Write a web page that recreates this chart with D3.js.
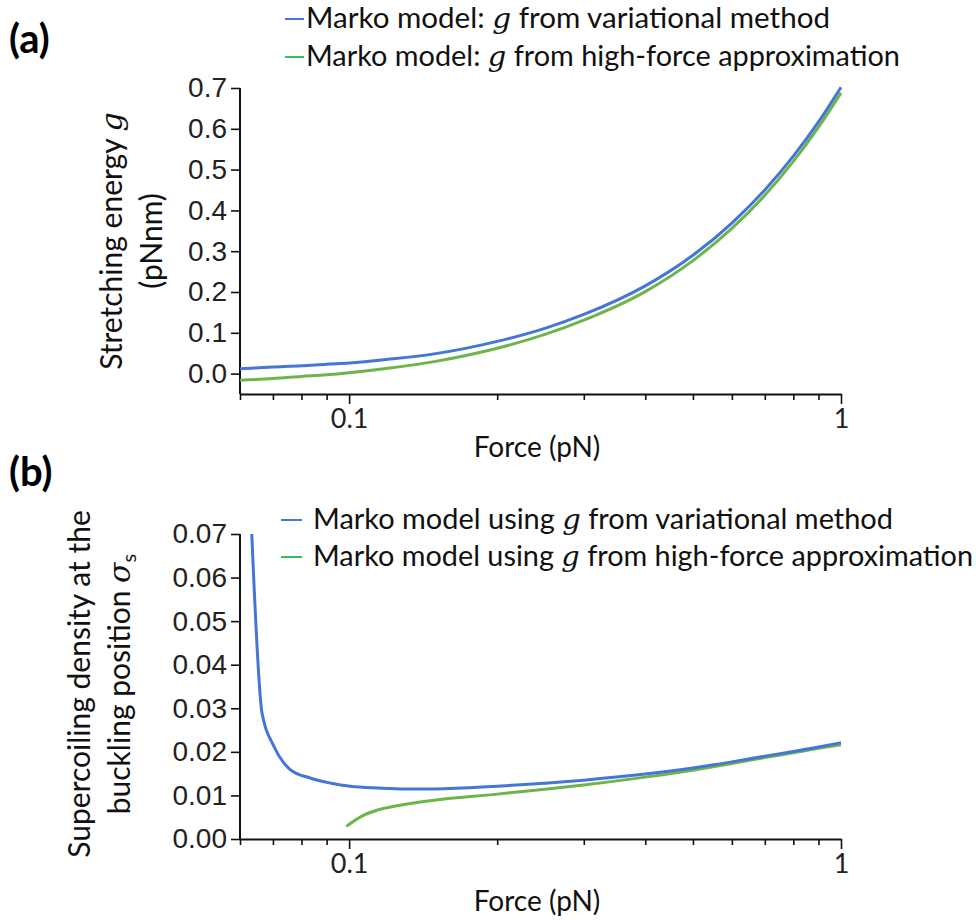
<!DOCTYPE html>
<meta charset="utf-8">
<script src="https://d3js.org/d3.v7.min.js"></script>
<style>
  body { margin: 0; background: #fff; }
  .ytk .tick text { font-family: "Liberation Sans", Arial, sans-serif; font-size: 28px; fill: #222; }
  .xtk .tick text { font-family: Lato, "Open Sans", sans-serif; font-size: 27px; fill: #222; }
  .lbl { font-family: Lato, "Open Sans", sans-serif; font-size: 28px; fill: #111; }
</style>
<div id="chart"></div>
<script>
// panel (a): stretching energy g vs force
const forceA = [0.06, 0.07, 0.08, 0.09, 0.1, 0.12, 0.15, 0.2, 0.25, 0.3, 0.4, 0.5, 0.6, 0.7, 0.8, 0.9, 1.0];
const gVariational = [0.012, 0.016, 0.019, 0.023, 0.026, 0.035, 0.049, 0.079, 0.111, 0.145, 0.215, 0.290, 0.369, 0.450, 0.533, 0.617, 0.702];
const gHighForce = [-0.016, -0.012, -0.007, -0.003, 0.002, 0.013, 0.030, 0.062, 0.096, 0.131, 0.201, 0.277, 0.356, 0.437, 0.520, 0.604, 0.688];

// panel (b): supercoiling density at buckling vs force
const forceBVar = [0.0634, 0.0665, 0.0703, 0.0758, 0.0833, 0.092, 0.1006, 0.115, 0.13, 0.15, 0.17, 0.2, 0.25, 0.3, 0.4, 0.5, 0.6, 0.7, 0.8, 0.9, 1.0];
const sigmaVar = [0.070, 0.029, 0.0213, 0.016, 0.0140, 0.0128, 0.0121, 0.0117, 0.0115, 0.0115, 0.0117, 0.0121, 0.0128, 0.0135, 0.0149, 0.0163, 0.0177, 0.0190, 0.0201, 0.0211, 0.0221];
const forceBHf = [0.0987, 0.106, 0.1147, 0.126, 0.146, 0.2, 0.25, 0.3, 0.4, 0.5, 0.6, 0.7, 0.8, 0.9, 1.0];
const sigmaHf = [0.0029, 0.0052, 0.0067, 0.0077, 0.0088, 0.0103, 0.0114, 0.0124, 0.0142, 0.0158, 0.0173, 0.0187, 0.0198, 0.0208, 0.0216];

const majorTicks = [0.1, 1];
const minorTicks = [0.06, 0.07, 0.08, 0.09, 0.2, 0.3, 0.4, 0.5, 0.6, 0.7, 0.8, 0.9];
const yTicksA = [0, 0.1, 0.2, 0.3, 0.4, 0.5, 0.6, 0.7];
const yTicksB = [0, 0.01, 0.02, 0.03, 0.04, 0.05, 0.06, 0.07];

const blue = "#4575d6", green = "#6db54a";
const legendBlue = "#4575d6", legendGreen = "#33c05a";

const svg = d3.select("#chart").append("svg")
  .attr("width", 976).attr("height", 920);

const x = d3.scaleLog().domain([0.06, 1]).range([240, 841]);

function drawPanel(top, bottom, yDomain, yTicks, fmt, series) {
  const y = d3.scaleLinear().domain(yDomain).range([bottom, top]);

  // minor x ticks
  svg.append("g")
    .attr("transform", `translate(0,${bottom})`)
    .call(d3.axisBottom(x).tickValues(minorTicks).tickSize(6).tickFormat(""))
    .call(g => g.select(".domain").remove())
    .selectAll("line").attr("stroke", "#111").attr("stroke-width", 1.6);

  // major x ticks + axis line
  svg.append("g").attr("class", "xtk")
    .attr("transform", `translate(0,${bottom})`)
    .call(d3.axisBottom(x).tickValues(majorTicks).tickSize(10).tickSizeOuter(0)
      .tickPadding(5).tickFormat(d3.format("~g")))
    .call(g => g.select(".domain").attr("stroke", "#111").attr("stroke-width", 2))
    .call(g => g.selectAll("line").attr("stroke", "#111").attr("stroke-width", 1.6));

  svg.append("g").attr("class", "ytk")
    .attr("transform", "translate(240,0)")
    .call(d3.axisLeft(y).tickValues(yTicks).tickSize(9).tickSizeOuter(0)
      .tickPadding(4).tickFormat(d3.format(fmt)))
    .call(g => g.select(".domain").attr("stroke", "#111").attr("stroke-width", 2)
      .attr("d", `M0,${y(yTicks[yTicks.length - 1])}V${bottom}`))
    .call(g => g.selectAll("line").attr("stroke", "#111").attr("stroke-width", 1.6));

  const line = d3.line()
    .x(d => x(d[0])).y(d => y(d[1]))
    .curve(d3.curveMonotoneX);

  series.forEach(s => {
    svg.append("path")
      .datum(d3.zip(s.fx, s.vals))
      .attr("fill", "none")
      .attr("stroke", s.color)
      .attr("stroke-width", 3)
      .attr("d", line);
  });
}

drawPanel(88, 394, [-0.05, 0.7], yTicksA, ".1f", [
  {fx: forceA, vals: gHighForce, color: green},
  {fx: forceA, vals: gVariational, color: blue}
]);

drawPanel(534, 839, [0, 0.07], yTicksB, ".2f", [
  {fx: forceBHf, vals: sigmaHf, color: green},
  {fx: forceBVar, vals: sigmaVar, color: blue}
]);

// panel letters
svg.append("text").attr("x", 9).attr("y", 53)
  .style("font-family", "Lato, sans-serif").style("font-weight", "bold").style("font-size", "40px")
  .text("(a)");
svg.append("text").attr("x", 9).attr("y", 486)
  .style("font-family", "Lato, sans-serif").style("font-weight", "bold").style("font-size", "40px")
  .text("(b)");

// legend text with italic serif g
function legendEntry(lx, ly, color, pre, post, len, lineX0, lineX1) {
  svg.append("line")
    .attr("x1", lineX0).attr("x2", lineX1).attr("y1", ly - 9).attr("y2", ly - 9)
    .attr("stroke", color).attr("stroke-width", 2);
  const t = svg.append("text").attr("class", "lbl").attr("x", lx).attr("y", ly)
    .attr("textLength", len).attr("lengthAdjust", "spacingAndGlyphs");
  t.append("tspan").text(pre);
  t.append("tspan").style("font-family", "'DejaVu Serif', serif").style("font-style", "italic").text("g");
  t.append("tspan").text(post);
}

legendEntry(306, 28, legendBlue, "Marko model: ", " from variational method", 524, 285, 304);
legendEntry(306, 66, legendGreen, "Marko model: ", " from high-force approximation", 594, 285, 304);
legendEntry(313, 529, legendBlue, "Marko model using ", " from variational method", 580, 281, 302);
legendEntry(313, 566, legendGreen, "Marko model using ", " from high-force approximation", 660, 281, 302);

// x-axis titles
svg.append("text").attr("class", "lbl").attr("x", 537).attr("y", 457)
  .attr("text-anchor", "middle").text("Force (pN)");
svg.append("text").attr("class", "lbl").attr("x", 537).attr("y", 911)
  .attr("text-anchor", "middle").text("Force (pN)");

// y-axis titles
const ya = svg.append("g").attr("transform", "translate(122,241) rotate(-90)");
const ya1 = ya.append("text").attr("class", "lbl").style("font-size", "30px")
  .attr("text-anchor", "middle").attr("y", 0);
ya1.append("tspan").text("Stretching energy ");
ya1.append("tspan").style("font-family", "'DejaVu Serif', serif").style("font-style", "italic").text("g");
ya.append("text").attr("class", "lbl").style("font-size", "30px")
  .attr("text-anchor", "middle").attr("y", 40).text("(pNnm)");

const yb = svg.append("g").attr("transform", "translate(90,684) rotate(-90)");
yb.append("text").attr("class", "lbl").style("font-size", "30px")
  .attr("text-anchor", "middle").attr("y", 0)
  .text("Supercoiling density at the");
const yb2 = yb.append("text").attr("class", "lbl").style("font-size", "30px")
  .attr("text-anchor", "middle").attr("y", 40);
yb2.append("tspan").text("buckling position ");
yb2.append("tspan").style("font-family", "'DejaVu Serif', serif").style("font-style", "italic").text("σ");
yb2.append("tspan").attr("dy", 6).style("font-size", "20px").text("s");
</script>
